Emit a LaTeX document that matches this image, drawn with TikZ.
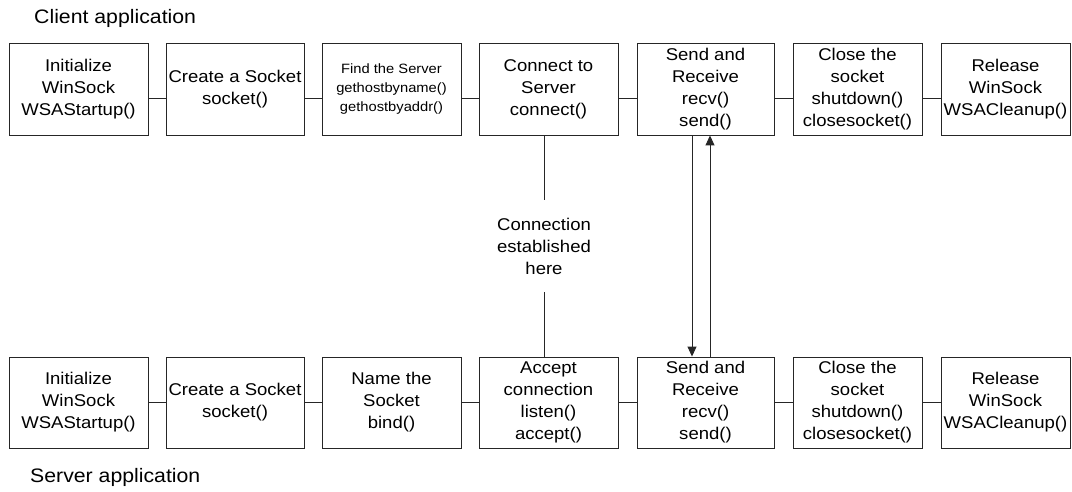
\documentclass[tikz,border=0pt]{standalone}
\usepackage{fontspec}
\setmainfont{Liberation Sans}[FakeStretch=1.09]
\usetikzlibrary{calc,arrows.meta}

\tikzset{
  stepbox/.style={draw=black!85, line width=0.9pt, inner sep=0pt, align=center,
    minimum height=92pt, font=\fontsize{17}{22}\selectfont},
  smallbox/.style={stepbox, font=\fontsize{13.5}{19}\selectfont},
  link/.style={draw=black!85, line width=0.9pt},
  flow/.style={link, -{Triangle[length=10pt,width=9pt]}},
  caption/.style={anchor=base west, inner sep=0pt, font=\fontsize{19.5}{24}\selectfont},
  note/.style={align=center, inner sep=0pt, font=\fontsize{17}{22}\selectfont}
}

\begin{document}
\begin{tikzpicture}[x=1pt, y=-1pt]
\useasboundingbox (0,0) rectangle (1072,492);

% client side
\node[caption] (clabel) at (34,24) {Client application};
\node[stepbox, minimum width=139pt] (c1) at (78.5,89)  {Initialize\\WinSock\\WSAStartup()};
\node[stepbox, minimum width=138pt] (c2) at (235,89)   {Create a Socket\\socket()};
\node[smallbox, minimum width=139pt] (c3) at (391.5,89) {Find the Server\\gethostbyname()\\gethostbyaddr()};
\node[stepbox, minimum width=139pt] (c4) at (548.5,89) {Connect to\\Server\\connect()};
\node[stepbox, minimum width=137pt] (c5) at (705.5,89) {Send and\\Receive\\recv()\\send()};
\node[stepbox, minimum width=129pt] (c6) at (857.5,89) {Close the\\socket\\shutdown()\\closesocket()};
\node[stepbox, minimum width=129pt] (c7) at (1005.5,89) {Release\\WinSock\\WSACleanup()};

% server side
\node[stepbox, minimum width=139pt, minimum height=91pt] (s1) at (78.5,402.5)  {Initialize\\WinSock\\WSAStartup()};
\node[stepbox, minimum width=138pt, minimum height=91pt] (s2) at (235,402.5)   {Create a Socket\\socket()};
\node[stepbox, minimum width=139pt, minimum height=91pt] (s3) at (391.5,402.5) {Name the\\Socket\\bind()};
\node[stepbox, minimum width=139pt, minimum height=91pt] (s4) at (548.5,402.5) {Accept\\connection\\listen()\\accept()};
\node[stepbox, minimum width=137pt, minimum height=91pt] (s5) at (705.5,402.5) {Send and\\Receive\\recv()\\send()};
\node[stepbox, minimum width=129pt, minimum height=91pt] (s6) at (857.5,402.5) {Close the\\socket\\shutdown()\\closesocket()};
\node[stepbox, minimum width=129pt, minimum height=91pt] (s7) at (1005.5,402.5) {Release\\WinSock\\WSACleanup()};
\node[caption] (slabel) at (30,482) {Server application};

% client chain
\foreach \a/\b in {c1/c2, c2/c3, c3/c4, c4/c5, c5/c6, c6/c7}
  \draw[link] ($(\a.east)+(0,9)$) -- ($(\b.west)+(0,9)$);
% server chain
\foreach \a/\b in {s1/s2, s2/s3, s3/s4, s4/s5, s5/s6, s6/s7}
  \draw[link] (\a.east) -- (\b.west);

% connection
\node[note, minimum height=92pt] (conn) at (544,246) {Connection\\established\\here};
\draw[link] (c4.south -| conn) -- (conn.north);
\draw[link] (conn.south) -- (s4.north -| conn);

% data exchange
\draw[flow] ($(c5.south)+(-13.5,0)$) -- ($(s5.north)+(-13.5,0)$);
\draw[flow] ($(s5.north)+(4.5,0)$) -- ($(c5.south)+(4.5,0)$);
\end{tikzpicture}
\end{document}
